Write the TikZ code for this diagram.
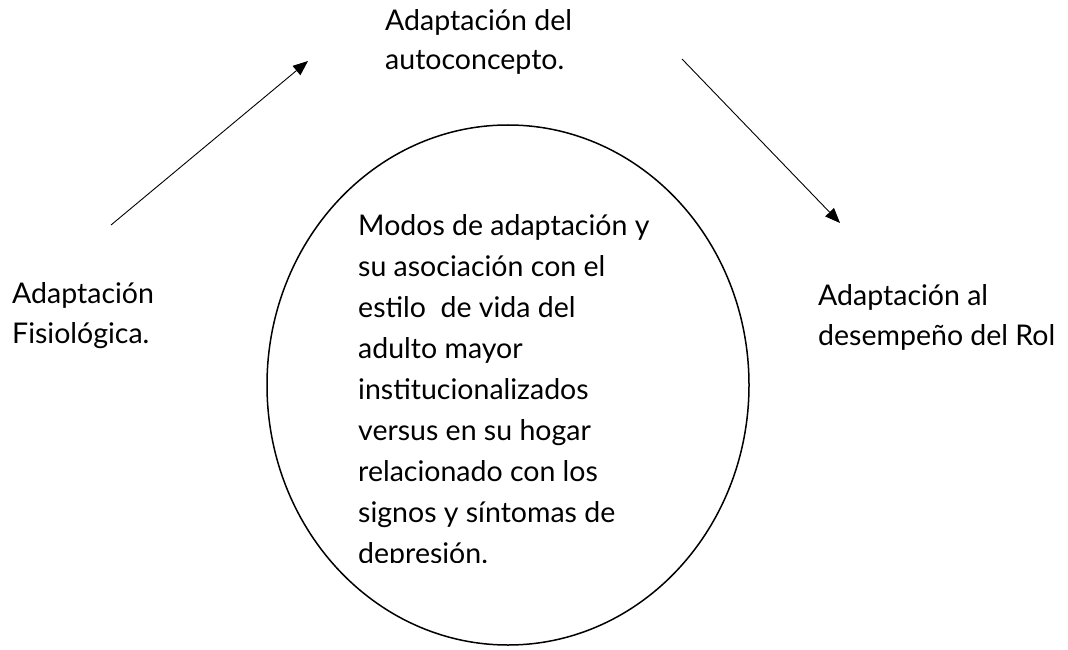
\documentclass[tikz,border=0pt]{standalone}
\usepackage{fontspec}
\setmainfont{Lato}
\usetikzlibrary{arrows.meta}
\begin{document}
\begin{tikzpicture}[x=1pt,y=-1pt,
  lbl/.style={inner sep=0pt, anchor=base west, align=left, font=\fontsize{28.5}{40}\selectfont},
  arr/.style={-{Triangle[length=15pt,width=12pt]}, line width=0.9pt},
  ring/.style={draw, line width=1.5pt}]
\useasboundingbox (0,0) rectangle (1068,650);
\draw[ring] (508,385) ellipse [x radius=241, y radius=260];
\node[lbl, font=\fontsize{28.5}{39}\selectfont] (top) at (385,70) {Adaptación del\\autoconcepto.};
\node[lbl] (fis) at (12,343) {Adaptación\\Fisiológica.};
\node[lbl] (rol) at (818,345) {Adaptación al\\desempeño del Rol};
\begin{scope}
\clip (300,150) rectangle (720,562);
\node[lbl, font=\fontsize{28.5}{41}\selectfont] (mid) at (358,563) {Modos de adaptación y\\su asociación con el\\estilo\ \ de vida del\\adulto mayor\\institucionalizados\\versus en su hogar\\relacionado con los\\signos y síntomas de\\depresión.};
\end{scope}
\coordinate (a1s) at (111,225);
\coordinate (a1e) at (308,61);
\coordinate (a2s) at (682,59);
\coordinate (a2e) at (840,223);
\draw[arr] (a1s) -- (a1e);
\draw[arr] (a2s) -- (a2e);
\end{tikzpicture}
\end{document}
